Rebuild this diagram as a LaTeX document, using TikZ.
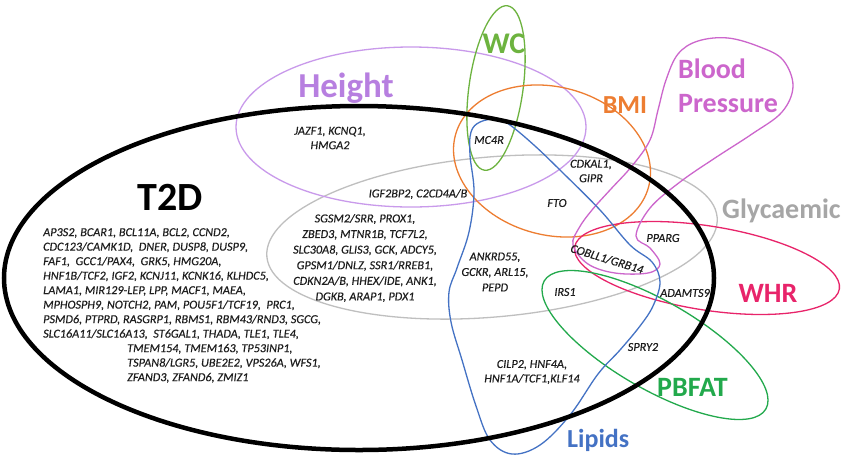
\documentclass[tikz,border=0pt]{standalone}
\usepackage{fontspec}
\setmainfont{Carlito}
\newfontfamily\genefam{Carlito}[ItalicFeatures={FakeBold=0.35}]
\begin{document}
\begin{tikzpicture}[x=1pt,y=-1pt]
\definecolor{cHeight}{HTML}{B77FE0}
\definecolor{cHeightL}{HTML}{C99AEB}
\definecolor{cWC}{HTML}{6DB33F}
\definecolor{cBMI}{HTML}{ED7D31}
\definecolor{cBP}{HTML}{CC66CC}
\definecolor{cGly}{HTML}{A6A6A6}
\definecolor{cGlyL}{HTML}{BFBFBF}
\definecolor{cWHR}{HTML}{E8246A}
\definecolor{cPB}{HTML}{22A94C}
\definecolor{cLip}{HTML}{4472C4}
\definecolor{cGene}{HTML}{1E1E1E}
\tikzset{
  setline/.style={line width=1.3pt},
  gene/.style={font=\genefam\fontsize{12.2}{14.5}\selectfont\itshape, text=cGene, inner sep=0pt},
  biglabel/.style={font=\fontsize{28}{32}\selectfont\bfseries, inner sep=0pt},
}
\useasboundingbox (0,0) rectangle (845,456);
\fill[white] (0,0) rectangle (845,456);

% Glycaemic
\draw[setline, cGlyL, rotate around={5:(492,237)}] (492,237) ellipse [x radius=226, y radius=80];
% Height
\draw[setline, cHeightL] (411,127) ellipse [x radius=175, y radius=80];
% WC
\draw[setline, cWC, rotate around={-8:(496,88)}] (496,88) ellipse [x radius=27, y radius=83];
% BMI
\draw[setline, cBMI, rotate around={-15:(552,161)}] (552,161) ellipse [x radius=100, y radius=74];
% WHR
\draw[setline, cWHR, rotate around={-9:(707,268)}] (707,268) ellipse [x radius=134, y radius=42];
% PBFAT
\draw[setline, cPB, rotate around={-30:(655,345)}] (655,345) ellipse [x radius=128, y radius=44];
% Blood pressure
\draw[setline, cBP] plot[smooth cycle, tension=0.6] coordinates {
  (573,245) (588,264) (615,273) (648,273) (660,264) (650,248) (636,236)
  (650,208) (680,182) (715,158) (752,134) (782,112) (793,86) (783,60)
  (760,47) (728,38) (698,41) (678,54) (666,80) (658,110) (650,140)
  (632,166) (610,190) (592,210) (579,228)};
% Lipids
\draw[setline, cLip] plot[smooth cycle, tension=0.6] coordinates {
  (480,122) (497,119) (510,125) (535,146) (562,172) (600,210) (630,245)
  (652,262) (660,282) (653,306) (640,326) (620,350) (598,374) (570,415)
  (540,445) (512,454) (490,440) (476,406) (462,360) (451,322) (449,292)
  (457,268) (469,232) (474,192) (470,155) (471,132)};
% T2D
\draw[line width=4.5pt, black] (359,278) ellipse [x radius=355, y radius=172];

% Labels
\node[biglabel, font=\fontsize{40}{44}\selectfont\bfseries, text=black] (lT2D) at (170,197) {T2D};
\node[biglabel, font=\fontsize{35}{38}\selectfont\bfseries, text=cHeight, anchor=base] (lHeight) at (346,97) {Height};
\node[biglabel, font=\fontsize{30}{34}\selectfont\bfseries, text=cWC, anchor=base] (lWC) at (504,53) {WC};
\node[biglabel, font=\fontsize{26}{30}\selectfont\bfseries, text=cBMI, anchor=base] (lBMI) at (625,113) {BMI};
\node[biglabel, text=cBP, anchor=base west] (lBlood) at (678,78) {Blood};
\node[biglabel, text=cBP, anchor=base west] (lPressure) at (678,112) {Pressure};
\node[biglabel, text=cGly, anchor=base west] (lGly) at (722,218) {Glycaemic};
\node[biglabel, text=cWHR, anchor=base] (lWHR) at (768,302) {WHR};
\node[biglabel, text=cPB, anchor=base west] (lPB) at (657,396) {PBFAT};
\node[biglabel, font=\fontsize{26}{30}\selectfont\bfseries, text=cLip, anchor=base west] (lLip) at (567,447) {Lipids};

% Gene lists
\node[gene, anchor=north west, align=left] (gT2D) at (43,228) {%
AP3S2, BCAR1, BCL11A, BCL2, CCND2,\\
CDC123/CAMK1D,\ \ DNER, DUSP8, DUSP9,\\
FAF1,\ \ GCC1/PAX4,\ \ GRK5, HMG20A,\\
HNF1B/TCF2, IGF2, KCNJ11, KCNK16, KLHDC5,\\
LAMA1, MIR129-LEP, LPP, MACF1, MAEA,\\
MPHOSPH9, NOTCH2, PAM, POU5F1/TCF19,\ \ PRC1,\\
PSMD6, PTPRD, RASGRP1, RBMS1, RBM43/RND3, SGCG,\\
SLC16A11/SLC16A13,\ \ ST6GAL1, THADA, TLE1, TLE4,\\
\hspace*{84pt}TMEM154, TMEM163, TP53INP1,\\
\hspace*{84pt}TSPAN8/LGR5, UBE2E2, VPS26A, WFS1,\\
\hspace*{84pt}ZFAND3, ZFAND6, ZMIZ1};
\node[gene, align=center] (gJAZ) at (330,138) {JAZF1, KCNQ1,\\HMGA2};
\node[gene] (gIGF) at (418,194) {IGF2BP2, C2CD4A/B};
\node[gene, align=center, font=\genefam\fontsize{12.2}{15.6}\selectfont\itshape] (gGly) at (365,258) {%
SGSM2/SRR, PROX1,\\ZBED3, MTNR1B, TCF7L2,\\SLC30A8, GLIS3, GCK, ADCY5,\\GPSM1/DNLZ, SSR1/RREB1,\\CDKN2A/B, HHEX/IDE, ANK1,\\DGKB, ARAP1, PDX1};
\node[gene] (gMC4R) at (489,140) {MC4R};
\node[gene, align=center] (gCDK) at (591,171) {CDKAL1,\\GIPR};
\node[gene] (gFTO) at (557,203) {FTO};
\node[gene, align=center, font=\genefam\fontsize{12.2}{15.5}\selectfont\itshape] (gANK) at (495,272) {ANKRD55,\\GCKR, ARL15,\\PEPD};
\node[gene, rotate=-17] (gCOB) at (607,259) {COBLL1/GRB14};
\node[gene] (gPPARG) at (663,238) {PPARG};
\node[gene] (gIRS) at (565,292) {IRS1};
\node[gene] (gADAM) at (685,293) {ADAMTS9};
\node[gene] (gSPRY) at (643,347) {SPRY2};
\node[gene, align=center] (gCILP) at (532,372) {CILP2, HNF4A,\\HNF1A/TCF1,KLF14};
\end{tikzpicture}
\end{document}
